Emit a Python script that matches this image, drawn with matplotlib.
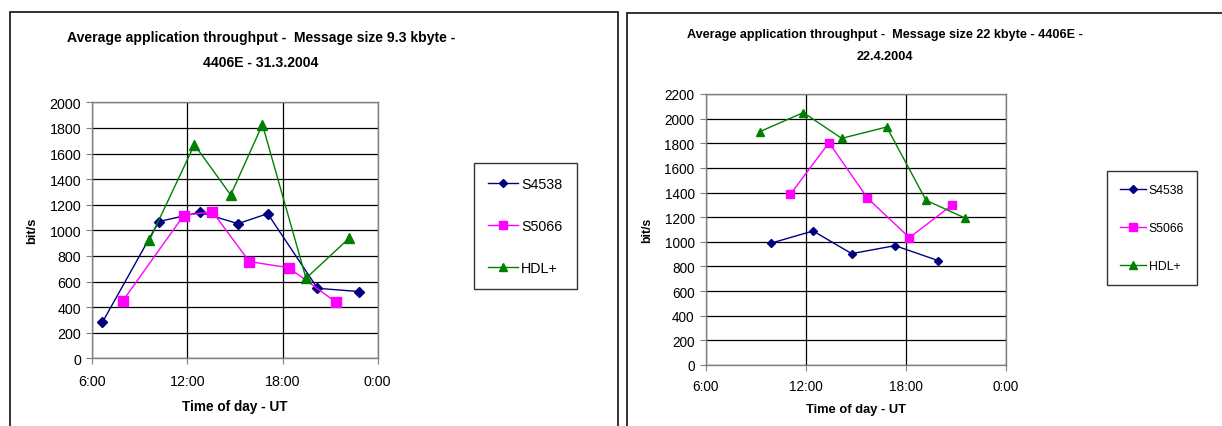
import matplotlib.pyplot as plt
from matplotlib.patches import Rectangle

plt.rcParams['font.family'] = ['Liberation Sans', 'DejaVu Sans']

W, H = 1222, 427

# left chart: 9.3 kbyte, 31.3.2004 (time of day in hours)
l_s4538_t = [6.63, 10.19, 12.79, 15.19, 17.06, 20.20, 22.85]
l_s4538_v = [280, 1068, 1141, 1052, 1130, 547, 521]
l_s5066_t = [7.93, 11.76, 13.57, 15.91, 18.39, 21.35]
l_s5066_v = [450, 1115, 1146, 755, 708, 440]
l_hdl_t = [9.60, 12.44, 14.73, 16.73, 19.48, 22.21]
l_hdl_v = [922, 1669, 1276, 1826, 625, 940]

# right chart: 22 kbyte, 22.4.2004
r_s4538_t = [9.94, 12.44, 14.76, 17.36, 19.96]
r_s4538_v = [990, 1088, 904, 969, 847]
r_s5066_t = [11.08, 13.40, 15.70, 18.22, 20.78]
r_s5066_v = [1386, 1805, 1356, 1034, 1299]
r_hdl_t = [9.24, 11.86, 14.16, 16.86, 19.22, 21.56]
r_hdl_v = [1894, 2049, 1840, 1932, 1337, 1193]

x_ticks = [6, 12, 18, 24]
x_labels = ['6:00', '12:00', '18:00', '0:00']
names = ['S4538', 'S5066', 'HDL+']


def px_axes(fig, x0, y0, x1, y1):
    return fig.add_axes([x0 / W, 1 - y1 / H, (x1 - x0) / W, (y1 - y0) / H])


def style(ax, ymax, fs, xpad, lpad):
    ax.set_xlim(6, 24)
    ax.set_ylim(0, ymax)
    ax.set_xticks(x_ticks)
    ax.set_xticklabels(x_labels)
    ax.set_yticks(range(0, ymax + 1, 200))
    ax.grid(True, color='black', lw=0.9)
    ax.set_axisbelow(True)
    for s in ax.spines.values():
        s.set_color('#808080')
        s.set_linewidth(1.0)
    ax.tick_params(direction='out', length=4, color='#808080', labelsize=fs)
    ax.tick_params(axis='x', pad=xpad)
    ax.tick_params(axis='y', pad=4)
    ax.set_xlabel('Time of day - UT', fontweight='bold', fontsize=fs - 0.5, labelpad=lpad)
    ax.set_ylabel('bit/s', fontweight='bold', fontsize=fs - 1, labelpad=8)


fig = plt.figure(figsize=(W / 100, H / 100), dpi=100)

# chart frames
fig.add_artist(Rectangle((10 / W, -0.1), 608 / W, 1.1 - 13 / H, transform=fig.transFigure,
                         fill=False, edgecolor='#222222', lw=1.3, clip_on=False))
fig.add_artist(Rectangle((627 / W, -0.1), 700 / W, 1.1 - 14 / H, transform=fig.transFigure,
                         fill=False, edgecolor='#222222', lw=1.3, clip_on=False))

# left chart
ax1 = px_axes(fig, 92.3, 103.3, 377.7, 359.3)
ax1.plot(l_s4538_t, l_s4538_v, color='#000080', marker='D', ms=5, lw=1, label=names[0])
ax1.plot(l_s5066_t, l_s5066_v, color='#FF00FF', marker='s', ms=6.5, lw=1, label=names[1])
ax1.plot(l_hdl_t, l_hdl_v, color='#008000', marker='^', ms=7, lw=1, label=names[2])
style(ax1, 2000, 10.3, 7.5, 8)
fig.text(261 / W, 1 - 38 / H, 'Average application throughput -  Message size 9.3 kbyte -',
         ha='center', va='center', fontsize=10.1, fontweight='bold')
fig.text(261 / W, 1 - 63 / H, '4406E - 31.3.2004',
         ha='center', va='center', fontsize=10.1, fontweight='bold')
leg1 = ax1.legend(loc='upper left', bbox_to_anchor=(474 / W, 1 - 164 / H),
                  bbox_transform=fig.transFigure, fontsize=10.3, frameon=True, fancybox=False,
                  edgecolor='#333333', framealpha=1, borderaxespad=0, handlelength=2.1,
                  handletextpad=0.2, labelspacing=1.95, borderpad=1.0, markerscale=0.9)
leg1.get_frame().set_linewidth(1.0)

# right chart
ax2 = px_axes(fig, 705.7, 95, 1005.7, 366)
ax2.plot(r_s4538_t, r_s4538_v, color='#000080', marker='D', ms=4.5, lw=1, label=names[0])
ax2.plot(r_s5066_t, r_s5066_v, color='#FF00FF', marker='s', ms=6, lw=1, label=names[1])
ax2.plot(r_hdl_t, r_hdl_v, color='#008000', marker='^', ms=6, lw=1, label=names[2])
style(ax2, 2200, 9.8, 6, 7.5)
fig.text(885 / W, 1 - 35 / H, 'Average application throughput -  Message size 22 kbyte - 4406E -',
         ha='center', va='center', fontsize=9.1, fontweight='bold')
fig.text(885 / W, 1 - 57 / H, '22.4.2004',
         ha='center', va='center', fontsize=9.1, fontweight='bold')
leg2 = ax2.legend(loc='upper left', bbox_to_anchor=(1107 / W, 1 - 172 / H),
                  bbox_transform=fig.transFigure, fontsize=8.8, frameon=True, fancybox=False,
                  edgecolor='#333333', framealpha=1, borderaxespad=0, handlelength=2.1,
                  handletextpad=0.2, labelspacing=2.1, borderpad=1.1, markerscale=0.9)
leg2.get_frame().set_linewidth(1.0)

fig.savefig('out.png', dpi=100)
